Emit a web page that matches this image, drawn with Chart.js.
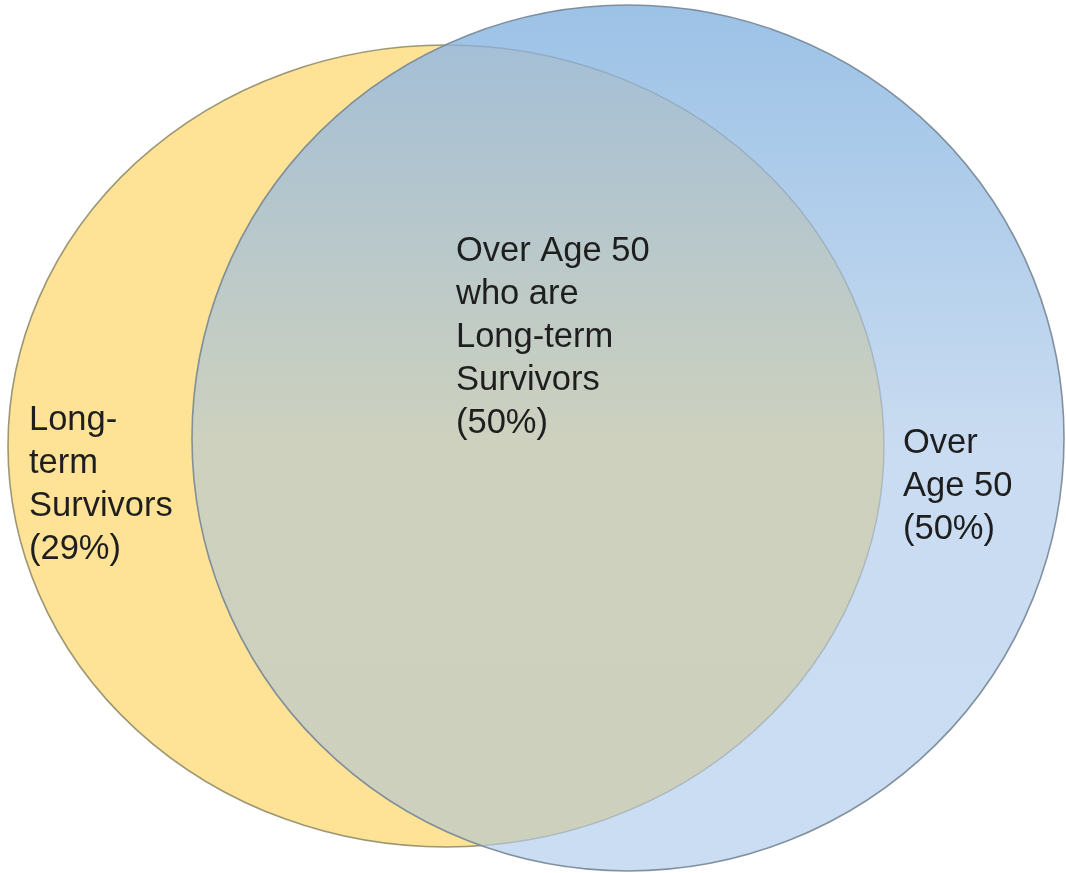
<!DOCTYPE html>
<html>
<head>
<meta charset="utf-8">
<script src="https://cdn.jsdelivr.net/npm/chart.js@4.4.1/dist/chart.umd.min.js"></script>
<style>
  html, body { margin: 0; padding: 0; background: #ffffff; }
  #wrap { position: relative; width: 1066px; height: 873px; }
</style>
</head>
<body>
<div id="wrap"><canvas id="c"></canvas></div>
<script>
// ---- data ----
const setNames = ['Long-term Survivors', 'Over Age 50', 'Over Age 50 who are Long-term Survivors'];
const setPercents = [29, 50, 50];
const labelLines = [
  ['Long-', 'term', 'Survivors', '(29%)'],
  ['Over', 'Age 50', '(50%)'],
  ['Over Age 50', 'who are', 'Long-term', 'Survivors', '(50%)']
];

// ---- geometry (axis units, canvas-like coordinate space) ----
const ellipses = {
  survivors: { cx: 446, cy: 446, rx: 438, ry: 401 },
  age50:     { cx: 628, cy: 438, rx: 436, ry: 433 }
};
const labelAnchors = [ { x: 29, y: 420 }, { x: 903, y: 443 }, { x: 456, y: 251 } ];
const lineGap = 43;

const vennPlugin = {
  id: 'venn',
  beforeDatasetsDraw(chart) {
    const ctx = chart.ctx;
    const xs = chart.scales.x, ys = chart.scales.y;
    const px = v => xs.getPixelForValue(v), py = v => ys.getPixelForValue(v);
    const path = e => {
      const cx = px(e.cx), cy = py(e.cy);
      const rx = Math.abs(px(e.cx + e.rx) - cx), ry = Math.abs(py(e.cy + e.ry) - cy);
      ctx.beginPath();
      ctx.ellipse(cx, cy, rx, ry, 0, 0, Math.PI * 2);
    };
    const A = ellipses.survivors, B = ellipses.age50;
    const top = py(B.cy - B.ry), bot = py(B.cy + B.ry);

    ctx.save();
    // yellow
    path(A);
    ctx.fillStyle = '#FEE396';
    ctx.fill();
    ctx.lineWidth = 1.6;
    ctx.strokeStyle = 'rgba(140,135,100,0.85)';
    ctx.stroke();
    // blue
    const gB = ctx.createLinearGradient(0, top, 0, bot);
    gB.addColorStop(0, '#9CC2E6');
    gB.addColorStop(0.52, '#CADCF1');
    gB.addColorStop(1, '#CADDF2');
    path(B);
    ctx.fillStyle = gB;
    ctx.fill();
    // overlap
    ctx.save();
    path(A);
    ctx.clip();
    const gO = ctx.createLinearGradient(0, top, 0, bot);
    gO.addColorStop(0, '#A0BDD9');
    gO.addColorStop(0.5, '#CDD1BE');
    gO.addColorStop(1, '#CDD0BC');
    path(B);
    ctx.fillStyle = gO;
    ctx.fill();
    ctx.restore();
    // faint yellow outline seen through blue
    ctx.save();
    path(B);
    ctx.clip();
    path(A);
    ctx.lineWidth = 1.4;
    ctx.strokeStyle = 'rgba(110,130,145,0.35)';
    ctx.stroke();
    ctx.restore();
    // blue outline
    ctx.lineWidth = 1.6;
    path(B);
    ctx.strokeStyle = 'rgba(120,135,150,0.9)';
    ctx.stroke();

    // labels
    ctx.fillStyle = '#1e1e1e';
    ctx.font = '34.5px "Liberation Sans", Arial, sans-serif';
    ctx.textAlign = 'left';
    ctx.textBaseline = 'middle';
    labelLines.forEach((lines, i) => {
      const a = labelAnchors[i];
      lines.forEach((t, j) => {
        ctx.fillText(t, px(a.x), py(a.y + j * lineGap));
      });
    });
    ctx.restore();
  }
};

new Chart(document.getElementById('c'), {
  type: 'scatter',
  data: {
    datasets: [{
      label: 'Sets',
      data: [
        { x: ellipses.survivors.cx, y: ellipses.survivors.cy, name: setNames[0], pct: setPercents[0] },
        { x: ellipses.age50.cx, y: ellipses.age50.cy, name: setNames[1], pct: setPercents[1] }
      ],
      pointRadius: 0
    }]
  },
  options: {
    responsive: true,
    maintainAspectRatio: false,
    animation: false,
    layout: { padding: 0 },
    plugins: { legend: { display: false }, tooltip: { enabled: false } },
    scales: {
      x: { type: 'linear', min: 0, max: 1066, display: false },
      y: { type: 'linear', min: 0, max: 873, reverse: true, display: false }
    }
  },
  plugins: [vennPlugin]
});
</script>
</body>
</html>
